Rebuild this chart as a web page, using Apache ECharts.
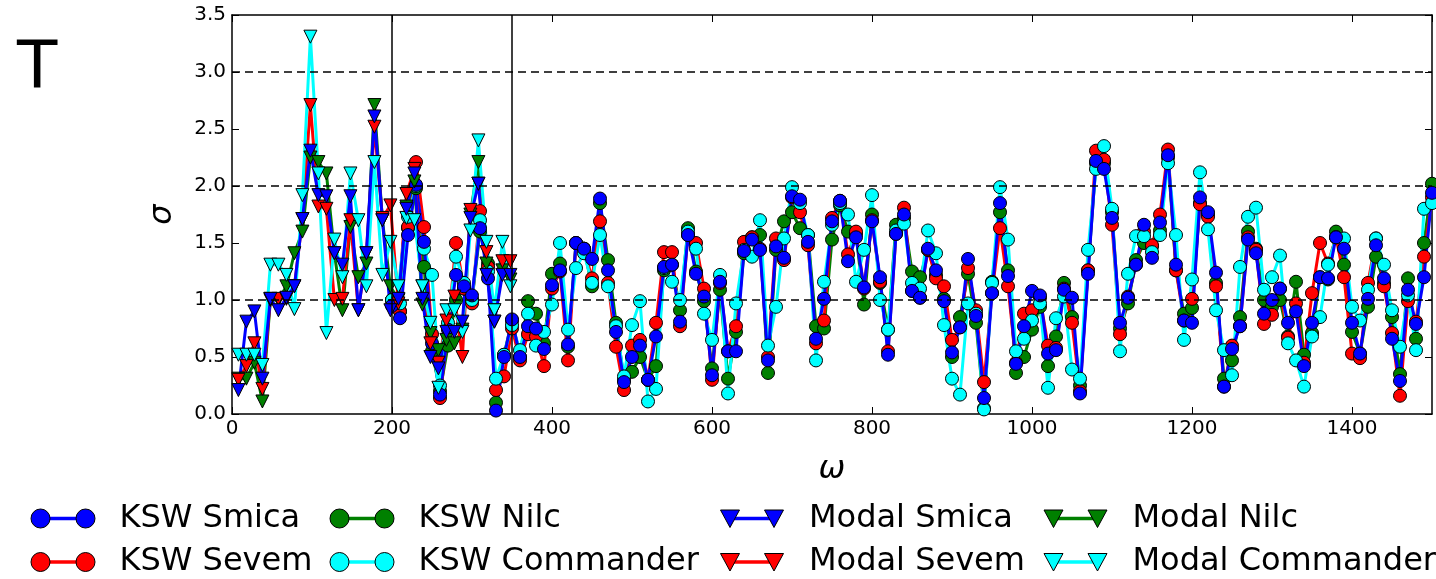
<!DOCTYPE html>
<html>
<head>
<meta charset="utf-8">
<script src="https://cdn.jsdelivr.net/npm/echarts@6/dist/echarts.min.js"></script>
<style>
  html, body { margin: 0; padding: 0; background: #fff; }
  #chart { width: 1436px; height: 579px; }
</style>
</head>
<body>
<div id="chart"></div>
<script>
// ---- data -------------------------------------------------------------
// Modal estimator: omega grid and sigma per component-separation map
const omegaModal = [8, 18, 28, 38, 48, 58, 68, 78, 88, 98, 108, 118, 128, 138, 148, 158, 168, 178, 188, 198,
  208, 218, 228, 238, 248, 258, 268, 278, 288, 298, 308, 318, 328, 338, 348];
const modalSmica = [0.21, 0.81, 0.90, 0.31, 1.01, 0.91, 1.02, 1.12, 1.71, 2.31, 1.92, 1.91, 1.41, 1.31, 1.91, 0.91, 1.41, 2.61, 1.70, 0.91,
  1.01, 1.80, 2.11, 1.01, 0.50, 0.40, 0.72, 0.72, 0.81, 1.72, 2.02, 1.22, 0.81, 1.22, 1.22];
const modalSevem = [0.30, 0.42, 0.62, 0.22, 1.01, 1.01, 1.01, 1.12, 1.71, 2.71, 1.82, 1.80, 1.00, 1.01, 1.70, 0.91, 1.41, 2.52, 1.72, 1.83,
  0.97, 1.93, 2.15, 1.12, 0.62, 0.45, 0.82, 1.03, 0.50, 1.79, 2.02, 1.42, 0.81, 1.34, 1.34];
const modalNilc = [0.31, 0.31, 0.45, 0.11, 1.00, 1.00, 1.12, 1.41, 1.60, 2.25, 2.21, 2.11, 1.41, 0.91, 1.64, 1.20, 1.32, 2.71, 1.70, 1.12,
  1.00, 1.82, 2.04, 0.96, 0.71, 0.56, 0.65, 0.62, 0.74, 1.75, 2.21, 1.32, 0.91, 1.26, 1.18];
const modalCommander = [0.52, 0.52, 0.52, 0.43, 1.31, 1.31, 1.22, 0.92, 1.92, 3.31, 2.11, 0.71, 1.53, 1.20, 2.11, 1.70, 1.12, 2.21, 1.22, 1.51,
  1.12, 1.72, 1.70, 1.12, 0.80, 0.23, 0.91, 0.91, 0.72, 1.61, 2.40, 1.51, 0.91, 1.51, 1.12];

// KSW estimator: omega grid and sigma per map
const omegaKSW = [200, 210, 220, 230, 240, 250, 260, 270, 280, 290, 300, 310, 320, 330, 340, 350, 360, 370, 380, 390,
  400, 410, 420, 430, 440, 450, 460, 470, 480, 490, 500, 510, 520, 530, 540, 550, 560, 570, 580, 590,
  600, 610, 620, 630, 640, 650, 660, 670, 680, 690, 700, 710, 720, 730, 740, 750, 760, 770, 780, 790,
  800, 810, 820, 830, 840, 850, 860, 870, 880, 890, 900, 910, 920, 930, 940, 950, 960, 970, 980, 990,
  1000, 1010, 1020, 1030, 1040, 1050, 1060, 1070, 1080, 1090, 1100, 1110, 1120, 1130, 1140, 1150, 1160, 1170, 1180, 1190,
  1200, 1210, 1220, 1230, 1240, 1250, 1260, 1270, 1280, 1290, 1300, 1310, 1320, 1330, 1340, 1350, 1360, 1370, 1380, 1390,
  1400, 1410, 1420, 1430, 1440, 1450, 1460, 1470, 1480, 1490, 1500];
const kswSmica = [0.95, 0.84, 1.57, 2.01, 1.51, 0.62, 0.17, 0.74, 1.22, 1.12, 1.04, 1.63, 1.19, 0.03, 0.50, 0.83, 0.50, 0.77, 0.75, 0.57,
  1.13, 1.26, 0.61, 1.50, 1.45, 1.36, 1.89, 1.26, 0.72, 0.28, 0.50, 0.60, 0.30, 0.68, 1.29, 1.31, 0.81, 1.57, 1.23, 1.03,
  0.34, 1.16, 0.55, 0.55, 1.43, 1.53, 1.44, 0.47, 1.47, 1.37, 1.91, 1.88, 1.51, 0.66, 1.01, 1.69, 1.87, 1.34, 1.55, 1.11,
  1.69, 1.20, 0.52, 1.58, 1.75, 1.08, 1.02, 1.45, 1.26, 0.99, 0.54, 0.76, 1.36, 0.86, 0.14, 1.06, 1.85, 1.21, 0.44, 0.77,
  1.08, 1.04, 0.53, 0.56, 1.09, 1.02, 0.18, 1.23, 2.22, 2.15, 1.72, 0.80, 1.02, 1.31, 1.66, 1.37, 1.68, 2.27, 1.31, 0.82,
  0.80, 1.90, 1.77, 1.24, 0.24, 0.57, 0.77, 1.53, 1.41, 0.88, 1.00, 1.10, 0.80, 0.90, 0.42, 0.80, 1.20, 1.19, 1.55, 1.45,
  0.80, 0.53, 1.01, 1.48, 1.19, 0.66, 0.29, 1.09, 0.79, 1.20, 1.94];
const kswSevem = [1.00, 0.90, 1.64, 2.21, 1.64, 0.70, 0.14, 0.75, 1.50, 1.10, 0.97, 1.78, 1.29, 0.21, 0.33, 0.75, 0.47, 0.70, 0.68, 0.42,
  1.10, 1.25, 0.47, 1.50, 1.45, 1.19, 1.69, 1.15, 0.59, 0.21, 0.60, 0.65, 0.30, 0.80, 1.42, 1.42, 0.77, 1.57, 1.50, 1.10,
  0.30, 1.15, 0.55, 0.77, 1.51, 1.55, 1.45, 0.50, 1.54, 1.35, 1.90, 1.77, 1.48, 0.62, 0.82, 1.72, 1.87, 1.40, 1.60, 1.10,
  1.70, 1.16, 0.55, 1.58, 1.81, 1.08, 1.02, 1.44, 1.19, 1.12, 0.65, 0.76, 1.28, 0.91, 0.28, 1.06, 1.63, 1.12, 0.45, 0.88,
  0.91, 1.02, 0.60, 0.58, 1.10, 0.80, 0.20, 1.26, 2.31, 2.23, 1.66, 0.70, 1.03, 1.31, 1.60, 1.48, 1.75, 2.32, 1.26, 0.82,
  1.01, 1.84, 1.73, 1.12, 0.24, 0.60, 0.77, 1.55, 1.44, 0.79, 0.87, 1.10, 0.67, 0.97, 0.45, 1.06, 1.50, 1.32, 1.55, 1.20,
  0.53, 0.49, 1.15, 1.54, 1.12, 0.71, 0.16, 0.99, 0.81, 1.38, 1.90];
const kswNilc = [1.00, 0.90, 1.63, 1.98, 1.29, 0.55, 0.20, 0.60, 1.00, 1.10, 1.00, 1.60, 1.32, 0.10, 0.52, 0.82, 0.50, 0.99, 0.88, 0.62,
  1.23, 1.32, 0.59, 1.50, 1.45, 1.12, 1.85, 1.35, 0.80, 0.30, 0.37, 0.50, 0.30, 0.42, 1.26, 1.31, 0.91, 1.63, 1.25, 0.99,
  0.40, 1.09, 0.31, 0.72, 1.41, 1.55, 1.57, 0.36, 1.44, 1.69, 1.77, 1.63, 1.57, 0.77, 0.75, 1.53, 1.83, 1.60, 1.58, 0.96,
  1.75, 1.15, 0.74, 1.66, 1.72, 1.25, 1.20, 1.44, 1.22, 1.01, 0.50, 0.85, 1.23, 0.80, 0.05, 1.16, 1.77, 1.26, 0.36, 0.50,
  0.74, 0.94, 0.42, 0.68, 1.15, 0.85, 0.25, 1.26, 2.20, 2.20, 1.77, 0.75, 0.97, 1.35, 1.50, 1.47, 1.61, 2.25, 1.26, 0.88,
  0.93, 1.85, 1.75, 1.15, 0.31, 0.47, 0.85, 1.60, 1.45, 1.00, 0.94, 1.00, 0.68, 1.16, 0.52, 0.71, 1.20, 1.18, 1.60, 1.31,
  0.72, 0.53, 0.94, 1.38, 1.15, 0.85, 0.35, 1.19, 0.66, 1.50, 2.02];
const kswCommander = [1.00, 0.97, 1.73, 2.00, 1.45, 1.22, 0.25, 0.80, 1.38, 1.15, 1.00, 1.70, 1.25, 0.31, 0.52, 0.78, 0.56, 0.88, 0.60, 0.72,
  0.96, 1.50, 0.74, 1.28, 1.41, 1.15, 1.57, 1.12, 0.77, 0.33, 0.78, 0.99, 0.11, 0.22, 1.28, 1.16, 1.00, 1.60, 1.45, 0.88,
  0.65, 1.22, 0.18, 0.97, 1.44, 1.38, 1.70, 0.60, 0.94, 1.54, 1.99, 1.85, 1.57, 0.47, 1.16, 1.66, 1.85, 1.75, 1.16, 1.44,
  1.92, 1.00, 0.74, 1.61, 1.67, 1.15, 1.10, 1.61, 1.41, 0.78, 0.31, 0.17, 0.97, 0.88, 0.04, 1.15, 1.99, 1.53, 0.55, 0.66,
  0.82, 0.97, 0.23, 0.84, 1.03, 0.39, 0.31, 1.44, 2.15, 2.35, 1.80, 0.55, 1.23, 1.56, 1.56, 1.42, 1.57, 2.20, 1.57, 0.65,
  1.18, 2.12, 1.62, 0.91, 0.56, 0.34, 1.29, 1.73, 1.81, 1.09, 1.20, 1.39, 0.62, 0.47, 0.24, 0.68, 0.85, 1.31, 1.55, 1.54,
  0.94, 0.82, 1.09, 1.54, 1.31, 0.91, 0.59, 1.04, 0.56, 1.80, 1.85];

const guideLevels = [1, 2, 3];        // dashed horizontal guides
const rangeEdges = [200, 350];        // solid vertical separators

// ---- styling ------------------------------------------------------------
const FONT = 'DejaVu Sans';
const COLOR = { Smica: '#0000ff', Sevem: '#ff0000', Nilc: '#008000', Commander: '#00ffff' };

function pairs(xs, ys) { return xs.map((x, i) => [x, ys[i]]); }

function lineSeries(name, color, xs, ys, marker) {
  const tri = marker === 'triangle';
  return {
    name: name,
    type: 'line',
    data: pairs(xs, ys),
    symbol: tri ? 'triangle' : 'circle',
    symbolRotate: tri ? 180 : 0,
    symbolSize: 13,
    showAllSymbol: true,
    lineStyle: { color: color, width: 3 },
    itemStyle: { color: color, borderColor: '#000', borderWidth: 1 },
    emphasis: { disabled: true },
    animation: false,
    z: 3
  };
}

// legend glyphs: two markers joined by a bar (drawn as two stacked legends)
const LW = 84, LH = 20;
const frame = 'M0,0L0,0L0,0Z M' + LW + ',' + LH + 'L' + LW + ',' + LH + 'L' + LW + ',' + LH + 'Z ';
const circleIcon = 'path://' + frame +
  'M0.5,10A9.5,9.5,0,1,1,19.5,10A9.5,9.5,0,1,1,0.5,10Z M45.5,10A9.5,9.5,0,1,1,64.5,10A9.5,9.5,0,1,1,45.5,10Z';
const triIcon = 'path://' + frame + 'M0.5,1.5L19.5,1.5L10,19Z M44.5,1.5L63.5,1.5L54,19Z';
const barIcon = 'path://' + frame + 'M10,8.2L55,8.2L55,11.8L10,11.8Z';

const legendColumns = [
  { left: 30, names: ['KSW Smica', 'KSW Sevem'], icon: circleIcon },
  { left: 329, names: ['KSW Nilc', 'KSW Commander'], icon: circleIcon },
  { left: 719.5, names: ['Modal Smica', 'Modal Sevem'], icon: triIcon },
  { left: 1043, names: ['Modal Nilc', 'Modal Commander'], icon: triIcon }
];
const legends = [];
legendColumns.forEach(col => {
  const base = {
    orient: 'vertical', left: col.left, top: 502.5, padding: 0, itemGap: 11.5,
    itemWidth: LW, itemHeight: LH, selectedMode: false, data: col.names
  };
  legends.push(Object.assign({}, base, {
    icon: barIcon, z: 4, itemStyle: { borderWidth: 0 },
    textStyle: { color: 'rgba(0,0,0,0)', fontFamily: FONT, fontSize: 32 }
  }));
  legends.push(Object.assign({}, base, {
    icon: col.icon, z: 5, itemStyle: { borderColor: '#000', borderWidth: 1 },
    textStyle: { color: '#000', fontFamily: FONT, fontSize: 32 }
  }));
});

const axisLineStyle = { color: '#000', width: 1.5 };
const tickStyle = { show: true, inside: true, length: 7, lineStyle: { color: '#000', width: 1 } };

const option = {
  backgroundColor: '#fff',
  animation: false,
  grid: { left: 232, right: 4, top: 15, bottom: 165, containLabel: false },
  legend: legends,
  graphic: [{
    type: 'text', left: 17, top: 38,
    style: { text: 'T', font: '66px "DejaVu Sans"', fill: '#000' }
  }],
  xAxis: [{
    type: 'value', position: 'bottom', min: 0, max: 1500, interval: 200,
    axisLine: { show: true, onZero: false, lineStyle: axisLineStyle },
    axisTick: tickStyle,
    axisLabel: { color: '#000', fontFamily: FONT, fontSize: 20, margin: 5, showMaxLabel: false,
      formatter: v => String(v) },
    splitLine: { show: false },
    name: 'ω', nameLocation: 'middle', nameGap: 40,
    nameTextStyle: { color: '#000', fontFamily: FONT, fontSize: 32, fontStyle: 'italic' }
  }, {
    type: 'value', position: 'top', min: 0, max: 1500, interval: 200,
    axisLine: { show: true, onZero: false, lineStyle: axisLineStyle },
    axisTick: tickStyle, axisLabel: { show: false }, splitLine: { show: false }
  }],
  yAxis: [{
    type: 'value', position: 'left', min: 0, max: 3.5, interval: 0.5,
    axisLine: { show: true, onZero: false, lineStyle: axisLineStyle },
    axisTick: tickStyle,
    axisLabel: { color: '#000', fontFamily: FONT, fontSize: 20, margin: 6, formatter: v => v.toFixed(1) },
    splitLine: { show: false },
    name: 'σ', nameLocation: 'middle', nameGap: 53, nameRotate: 90,
    nameTextStyle: { color: '#000', fontFamily: FONT, fontSize: 32, fontStyle: 'italic' }
  }, {
    type: 'value', position: 'right', min: 0, max: 3.5, interval: 0.5,
    axisLine: { show: true, onZero: false, lineStyle: axisLineStyle },
    axisTick: tickStyle, axisLabel: { show: false }, splitLine: { show: false }
  }],
  series: [
    {
      name: 'guides', type: 'line', data: [], silent: true, z: 1,
      markLine: {
        silent: true, symbol: ['none', 'none'], animation: false,
        label: { show: false },
        data: guideLevels.map(v => ({ yAxis: v, lineStyle: { color: '#000', width: 1.5, type: [8, 5] } }))
          .concat(rangeEdges.map(v => ({ xAxis: v, lineStyle: { color: '#000', width: 1.5, type: 'solid' } })))
      }
    },
    lineSeries('KSW Nilc', COLOR.Nilc, omegaKSW, kswNilc, 'circle'),
    lineSeries('KSW Sevem', COLOR.Sevem, omegaKSW, kswSevem, 'circle'),
    lineSeries('KSW Commander', COLOR.Commander, omegaKSW, kswCommander, 'circle'),
    lineSeries('KSW Smica', COLOR.Smica, omegaKSW, kswSmica, 'circle'),
    lineSeries('Modal Nilc', COLOR.Nilc, omegaModal, modalNilc, 'triangle'),
    lineSeries('Modal Sevem', COLOR.Sevem, omegaModal, modalSevem, 'triangle'),
    lineSeries('Modal Commander', COLOR.Commander, omegaModal, modalCommander, 'triangle'),
    lineSeries('Modal Smica', COLOR.Smica, omegaModal, modalSmica, 'triangle')
  ]
};

const chart = echarts.init(document.getElementById('chart'), null, { renderer: 'canvas' });
chart.setOption(option);
</script>
</body>
</html>
